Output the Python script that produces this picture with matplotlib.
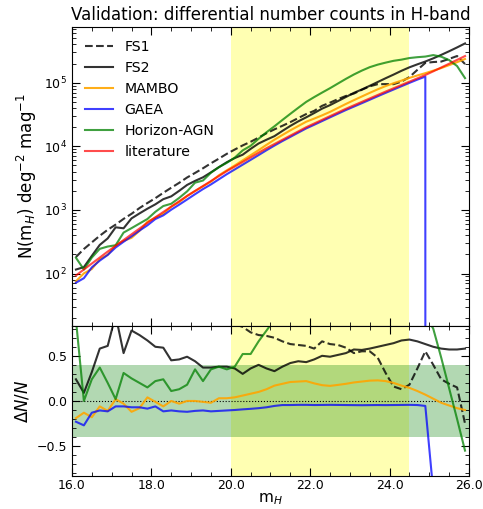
import numpy as np
import matplotlib
matplotlib.use("Agg")
import matplotlib.pyplot as plt
from matplotlib.ticker import MultipleLocator, FormatStrFormatter

# bin centres (H magnitude)
mag = np.round(np.arange(16.1, 26.0, 0.2), 1)

# literature counts, log10 N(m_H) [deg^-2 mag^-1]
lit_log = [1.970, 2.064, 2.158, 2.252, 2.346, 2.437, 2.527, 2.617, 2.707, 2.797,
           2.884, 2.968, 3.052, 3.136, 3.220, 3.298, 3.376, 3.454, 3.532, 3.610,
           3.682, 3.754, 3.826, 3.898, 3.970, 4.036, 4.102, 4.168, 4.234, 4.300,
           4.358, 4.416, 4.474, 4.532, 4.590, 4.644, 4.698, 4.752, 4.806, 4.860,
           4.912, 4.964, 5.016, 5.068, 5.120, 5.178, 5.238, 5.298, 5.358, 5.418]

# relative difference to literature, dN/N
fs1 = [0.95, 1.10, 1.15, 1.20, 1.20, 1.15, 1.15, 1.10, 1.10, 1.05,
       1.00, 1.00, 0.98, 0.95, 0.95, 0.92, 0.90, 0.90, 0.88, 0.87,
       0.85, 0.82, 0.76, 0.73, 0.72, 0.70, 0.66, 0.63, 0.62, 0.61,
       0.58, 0.66, 0.63, 0.62, 0.59, 0.53, 0.55, 0.55, 0.48, 0.31,
       0.16, 0.13, 0.18, 0.36, 0.55, 0.40, 0.24, 0.19, 0.15, -0.25]
fs2 = [0.24, 0.09, 0.32, 0.58, 0.61, 0.95, 0.53, 0.78, 0.73, 0.67,
       0.60, 0.59, 0.45, 0.46, 0.49, 0.44, 0.37, 0.37, 0.38, 0.38,
       0.36, 0.30, 0.36, 0.40, 0.36, 0.33, 0.38, 0.42, 0.44, 0.43,
       0.46, 0.50, 0.49, 0.51, 0.53, 0.57, 0.565, 0.58, 0.60, 0.62,
       0.64, 0.67, 0.68, 0.66, 0.63, 0.60, 0.58, 0.57, 0.57, 0.58]
mambo = [-0.19, -0.13, -0.18, -0.06, -0.11, 0.02, -0.03, -0.12, -0.08, 0.04,
         -0.01, -0.06, 0.00, -0.03, 0.00, 0.00, -0.01, -0.02, 0.03, 0.03,
         0.04, 0.06, 0.08, 0.10, 0.13, 0.17, 0.19, 0.21, 0.215, 0.22,
         0.195, 0.175, 0.167, 0.178, 0.19, 0.205, 0.215, 0.225, 0.228, 0.22,
         0.20, 0.17, 0.145, 0.11, 0.07, 0.025, -0.02, -0.05, -0.08, -0.10]
gaea = [-0.23, -0.27, -0.13, -0.105, -0.115, -0.06, -0.06, -0.07, -0.07, -0.085,
        -0.06, -0.115, -0.105, -0.115, -0.12, -0.11, -0.105, -0.115, -0.11, -0.105,
        -0.10, -0.093, -0.087, -0.08, -0.07, -0.055, -0.045, -0.045, -0.043, -0.043,
        -0.045, -0.044, -0.043, -0.044, -0.045, -0.046, -0.047, -0.046, -0.045, -0.046,
        -0.045, -0.044, -0.043, -0.045, -0.055, -1.0, -1.0, -1.0, -1.0, -1.0]
horizon = [0.90, 0.00, 0.24, 0.37, 0.20, 0.02, 0.31, 0.25, 0.20, 0.15,
           0.22, 0.24, 0.11, 0.13, 0.18, 0.35, 0.22, 0.35, 0.38, 0.35,
           0.38, 0.52, 0.52, 0.66, 0.78, 0.90, 1.05, 1.20, 1.35, 1.50,
           1.60, 1.68, 1.75, 1.85, 1.95, 2.05, 2.10, 2.10, 2.00, 1.85,
           1.70, 1.50, 1.35, 1.15, 0.95, 0.80, 0.48, 0.14, -0.20, -0.55]

lit = 10 ** np.array(lit_log)
series = [
    ("FS1", fs1, dict(color="k", ls="--", alpha=0.8)),
    ("FS2", fs2, dict(color="k", ls="-", alpha=0.8)),
    ("MAMBO", mambo, dict(color="orange", alpha=0.9)),
    ("GAEA", gaea, dict(color="blue", alpha=0.75)),
    ("Horizon-AGN", horizon, dict(color="green", alpha=0.75)),
]

fig = plt.figure(figsize=(4.83, 5.09), dpi=100)
ax1 = fig.add_axes([0.149, 0.3595, 0.822, 0.5875])
ax2 = fig.add_axes([0.149, 0.0650, 0.822, 0.2945], sharex=ax1)

for ax in (ax1, ax2):
    ax.axvspan(20, 24.5, color="yellow", alpha=0.3, lw=0)
ax2.axhspan(-0.4, 0.4, color="green", alpha=0.3, lw=0)
ax2.axhline(0, color="k", ls=":", lw=0.8)

for name, rel, st in series:
    rel = np.array(rel)
    ax1.plot(mag, lit * (1 + rel), lw=1.5, label=name, **st)
    ax2.plot(mag, rel, lw=1.5, **st)
ax1.plot(mag, lit, color="red", alpha=0.7, lw=1.5, label="literature")

ax1.set_yscale("log")
ax1.set_ylim(15, 7.5e5)
ax1.set_xlim(16, 26)
ax2.set_ylim(-0.83, 0.83)

ax1.set_title("Validation: differential number counts in H-band", fontsize=12, pad=5)
ax1.set_ylabel(r"N(m$_H$) deg$^{-2}$ mag$^{-1}$", fontsize=12)
ax2.set_ylabel(r"$\Delta N/N$", fontsize=12)
ax2.set_xlabel(r"m$_H$", fontsize=11, labelpad=0)
ax1.legend(loc="upper left", frameon=False, fontsize=10.2)

ax2.xaxis.set_major_locator(MultipleLocator(2))
ax2.xaxis.set_minor_locator(MultipleLocator(0.5))
ax2.xaxis.set_major_formatter(FormatStrFormatter("%.1f"))
ax2.yaxis.set_major_locator(MultipleLocator(0.5))
ax2.yaxis.set_minor_locator(MultipleLocator(0.1))
ax1.tick_params(labelbottom=False)
for ax in (ax1, ax2):
    ax.tick_params(which="both", direction="in", top=True, right=True, labelsize=9)
    ax.tick_params(which="major", length=6)
    ax.tick_params(which="minor", length=3)
ax2.tick_params(axis="x", pad=2)

fig.savefig("out.png", dpi=100)
